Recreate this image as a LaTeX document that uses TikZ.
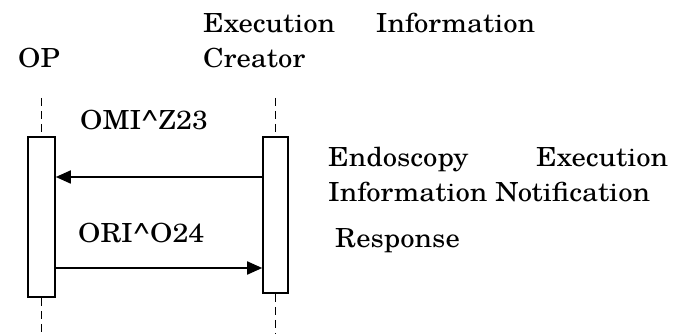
\documentclass[tikz,border=0pt]{standalone}
\usepackage{fontspec}
\setmainfont{texgyreschola-regular.otf}[FakeStretch=1.09]
\usetikzlibrary{arrows.meta}
\tikzset{
  lbl/.style={anchor=base west, inner sep=0pt, font=\fontsize{26.3pt}{35pt}\selectfont},
  actbox/.style={draw, line width=1.6pt, fill=white, inner sep=0pt},
  life/.style={line width=1.3pt, dash pattern=on 8pt off 5pt},
  msg/.style={line width=1.8pt, -{Triangle[length=15pt,width=13pt]}}
}
\begin{document}
\begin{tikzpicture}[x=1pt,y=-1pt]
\useasboundingbox (0,0) rectangle (673,334);
% actors
\node[lbl] (op) at (18,68) {OP};
\node[lbl, align=left] (eic) at (203,68) {\makebox[332pt][s]{Execution Information}\\Creator};
% lifelines
\coordinate (ltop) at (41.5,98);
\coordinate (lbot) at (41.5,334);
\coordinate (rtop) at (275.5,98);
\coordinate (rbot) at (275.5,334);
\node[actbox, minimum width=27pt, minimum height=160pt] (lbox) at (41.5,217) {};
\node[actbox, minimum width=25pt, minimum height=156pt] (rbox) at (275.5,215) {};
\draw[life] (ltop) -- (lbox.north);
\draw[life] (lbox.south) -- (lbot);
\draw[life] (rtop) -- (rbox.north);
\draw[life] (rbox.south) -- (rbot);
% messages
\coordinate (ya) at (0,177);
\coordinate (yb) at (0,268);
\draw[msg] (rbox.west |- ya) -- (lbox.east |- ya);
\draw[msg] (lbox.east |- yb) -- (rbox.west |- yb);
% labels
\node[lbl] (m1) at (80,130) {OMI\textasciicircum Z23};
\node[lbl] (m2) at (78,243) {ORI\textasciicircum O24};
\node[lbl, align=left] (d1) at (328,202) {\makebox[340pt][s]{Endoscopy Execution}\\Information Notification};
\node[lbl] (d2) at (335,248) {Response};
\end{tikzpicture}
\end{document}
